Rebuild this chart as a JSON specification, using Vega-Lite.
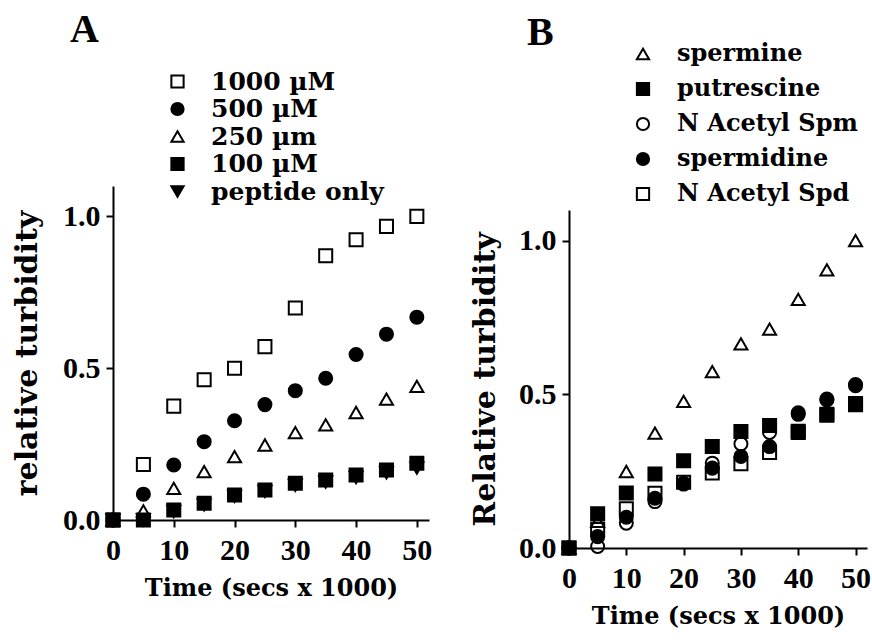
{
  "$schema": "https://vega.github.io/schema/vega-lite/v6.json",
  "background": "white",
  "padding": {"left": 12, "top": 10, "right": 0, "bottom": 0},
  "bounds": "flush",
  "spacing": 140,
  "resolve": {"scale": {"shape": "independent", "fill": "independent"}, "legend": {"shape": "independent", "fill": "independent"}},
  "config": {
    "view": {"stroke": null},
    "axis": {
      "grid": false, "domainColor": "black", "domainWidth": 2,
      "tickColor": "black", "tickWidth": 2, "tickSize": 7, "labelFlush": false,
      "labelFont": "Liberation Serif", "labelFontWeight": "bold", "labelFontSize": 30, "labelColor": "black",
      "titleFont": "DejaVu Serif", "titleFontWeight": "bold", "titleFontSize": 24, "titleColor": "black"
    },
    "legend": {
      "labelFont": "DejaVu Serif", "labelFontWeight": "bold", "labelColor": "black", "labelLimit": 0,
      "symbolStrokeColor": "black", "symbolStrokeWidth": 2, "symbolOpacity": 1, "symbolSize": 150
    },
    "title": {"font": "Liberation Serif", "fontWeight": "bold", "fontSize": 40, "color": "black", "anchor": "start", "frame": "group"}
  },
  "hconcat": [
    {
      "width": 316, "height": 334,
      "title": {"text": "A", "dx": -43, "offset": 19},
      "data": {"values": [
        {"s": "peptide only", "t": 0, "v": 0}, {"s": "peptide only", "t": 5, "v": 0}, {"s": "peptide only", "t": 10, "v": 0.028}, {"s": "peptide only", "t": 15, "v": 0.05}, {"s": "peptide only", "t": 20, "v": 0.078}, {"s": "peptide only", "t": 25, "v": 0.094}, {"s": "peptide only", "t": 30, "v": 0.114}, {"s": "peptide only", "t": 35, "v": 0.125}, {"s": "peptide only", "t": 40, "v": 0.14}, {"s": "peptide only", "t": 45, "v": 0.155}, {"s": "peptide only", "t": 50, "v": 0.171},
        {"s": "100 µM", "t": 0, "v": 0}, {"s": "100 µM", "t": 5, "v": 0}, {"s": "100 µM", "t": 10, "v": 0.033}, {"s": "100 µM", "t": 15, "v": 0.055}, {"s": "100 µM", "t": 20, "v": 0.082}, {"s": "100 µM", "t": 25, "v": 0.099}, {"s": "100 µM", "t": 30, "v": 0.121}, {"s": "100 µM", "t": 35, "v": 0.132}, {"s": "100 µM", "t": 40, "v": 0.148}, {"s": "100 µM", "t": 45, "v": 0.165}, {"s": "100 µM", "t": 50, "v": 0.187},
        {"s": "250 µm", "t": 0, "v": 0}, {"s": "250 µm", "t": 5, "v": 0.03}, {"s": "250 µm", "t": 10, "v": 0.104}, {"s": "250 µm", "t": 15, "v": 0.159}, {"s": "250 µm", "t": 20, "v": 0.209}, {"s": "250 µm", "t": 25, "v": 0.247}, {"s": "250 µm", "t": 30, "v": 0.288}, {"s": "250 µm", "t": 35, "v": 0.313}, {"s": "250 µm", "t": 40, "v": 0.354}, {"s": "250 µm", "t": 45, "v": 0.398}, {"s": "250 µm", "t": 50, "v": 0.44},
        {"s": "500 µM", "t": 0, "v": 0}, {"s": "500 µM", "t": 5, "v": 0.085}, {"s": "500 µM", "t": 10, "v": 0.181}, {"s": "500 µM", "t": 15, "v": 0.258}, {"s": "500 µM", "t": 20, "v": 0.327}, {"s": "500 µM", "t": 25, "v": 0.38}, {"s": "500 µM", "t": 30, "v": 0.426}, {"s": "500 µM", "t": 35, "v": 0.467}, {"s": "500 µM", "t": 40, "v": 0.545}, {"s": "500 µM", "t": 45, "v": 0.612}, {"s": "500 µM", "t": 50, "v": 0.668},
        {"s": "1000 µM", "t": 0, "v": 0}, {"s": "1000 µM", "t": 5, "v": 0.183}, {"s": "1000 µM", "t": 10, "v": 0.375}, {"s": "1000 µM", "t": 15, "v": 0.462}, {"s": "1000 µM", "t": 20, "v": 0.5}, {"s": "1000 µM", "t": 25, "v": 0.571}, {"s": "1000 µM", "t": 30, "v": 0.698}, {"s": "1000 µM", "t": 35, "v": 0.87}, {"s": "1000 µM", "t": 40, "v": 0.923}, {"s": "1000 µM", "t": 45, "v": 0.967}, {"s": "1000 µM", "t": 50, "v": 1.0}
      ]},
      "mark": {"type": "point", "filled": true, "stroke": "black", "strokeWidth": 2, "size": 170, "opacity": 1},
      "encoding": {
        "x": {"field": "t", "type": "quantitative", "scale": {"domain": [0, 52], "nice": false},
              "axis": {"values": [0, 10, 20, 30, 40, 50], "title": "Time (secs x 1000)", "labelPadding": 8, "titlePadding": 11}},
        "y": {"field": "v", "type": "quantitative", "scale": {"domain": [0, 1.1], "nice": false},
              "axis": {"values": [0, 0.5, 1], "format": ".1f", "title": "relative turbidity", "titleFontSize": 30, "labelPadding": 6, "titlePadding": 20}},
        "shape": {"field": "s", "type": "nominal",
                  "scale": {"domain": ["1000 µM", "500 µM", "250 µm", "100 µM", "peptide only"], "range": ["square", "circle", "triangle-up", "square", "triangle-down"]},
                  "legend": {"title": null, "orient": "none", "legendX": 52, "legendY": -117, "labelFontSize": 25, "rowPadding": 1.5, "labelOffset": 21,
                             "encode": {"symbols": {"update": {"stroke": {"value": "black"}, "strokeWidth": {"value": 2}}}}}},
        "fill": {"field": "s", "type": "nominal",
                 "scale": {"domain": ["1000 µM", "500 µM", "250 µm", "100 µM", "peptide only"], "range": ["transparent", "black", "transparent", "black", "black"]},
                 "legend": {"title": null, "orient": "none", "legendX": 52, "legendY": -117, "labelFontSize": 25, "rowPadding": 1.5, "labelOffset": 21,
                            "encode": {"symbols": {"update": {"stroke": {"value": "black"}, "strokeWidth": {"value": 2}}}}}}
      }
    },
    {
      "width": 298, "height": 362,
      "title": {"text": "B", "dx": -42, "offset": -11},
      "data": {"values": [
        {"s": "spermine", "t": 0, "v": 0}, {"s": "spermine", "t": 5, "v": 0.087}, {"s": "spermine", "t": 10, "v": 0.249}, {"s": "spermine", "t": 15, "v": 0.374}, {"s": "spermine", "t": 20, "v": 0.477}, {"s": "spermine", "t": 25, "v": 0.574}, {"s": "spermine", "t": 30, "v": 0.664}, {"s": "spermine", "t": 35, "v": 0.712}, {"s": "spermine", "t": 40, "v": 0.809}, {"s": "spermine", "t": 45, "v": 0.905}, {"s": "spermine", "t": 50, "v": 1.0},
        {"s": "putrescine", "t": 0, "v": 0}, {"s": "putrescine", "t": 5, "v": 0.111}, {"s": "putrescine", "t": 10, "v": 0.179}, {"s": "putrescine", "t": 15, "v": 0.241}, {"s": "putrescine", "t": 20, "v": 0.284}, {"s": "putrescine", "t": 25, "v": 0.33}, {"s": "putrescine", "t": 30, "v": 0.379}, {"s": "putrescine", "t": 35, "v": 0.399}, {"s": "putrescine", "t": 40, "v": 0.376}, {"s": "putrescine", "t": 45, "v": 0.432}, {"s": "putrescine", "t": 50, "v": 0.466},
        {"s": "N Acetyl Spm", "t": 0, "v": 0}, {"s": "N Acetyl Spm", "t": 5, "v": 0.005}, {"s": "N Acetyl Spm", "t": 10, "v": 0.081}, {"s": "N Acetyl Spm", "t": 15, "v": 0.151}, {"s": "N Acetyl Spm", "t": 20, "v": 0.208}, {"s": "N Acetyl Spm", "t": 25, "v": 0.276}, {"s": "N Acetyl Spm", "t": 30, "v": 0.339}, {"s": "N Acetyl Spm", "t": 35, "v": 0.376}, {"s": "N Acetyl Spm", "t": 40, "v": 0.44}, {"s": "N Acetyl Spm", "t": 45, "v": 0.485}, {"s": "N Acetyl Spm", "t": 50, "v": 0.532},
        {"s": "spermidine", "t": 0, "v": 0}, {"s": "spermidine", "t": 5, "v": 0.037}, {"s": "spermidine", "t": 10, "v": 0.1}, {"s": "spermidine", "t": 15, "v": 0.162}, {"s": "spermidine", "t": 20, "v": 0.211}, {"s": "spermidine", "t": 25, "v": 0.26}, {"s": "spermidine", "t": 30, "v": 0.298}, {"s": "spermidine", "t": 35, "v": 0.33}, {"s": "spermidine", "t": 40, "v": 0.435}, {"s": "spermidine", "t": 45, "v": 0.482}, {"s": "spermidine", "t": 50, "v": 0.528},
        {"s": "N Acetyl Spd", "t": 0, "v": 0}, {"s": "N Acetyl Spd", "t": 5, "v": 0.06}, {"s": "N Acetyl Spd", "t": 10, "v": 0.128}, {"s": "N Acetyl Spd", "t": 15, "v": 0.178}, {"s": "N Acetyl Spd", "t": 20, "v": 0.214}, {"s": "N Acetyl Spd", "t": 25, "v": 0.244}, {"s": "N Acetyl Spd", "t": 30, "v": 0.274}, {"s": "N Acetyl Spd", "t": 35, "v": 0.311}, {"s": "N Acetyl Spd", "t": 40, "v": 0.38}, {"s": "N Acetyl Spd", "t": 45, "v": 0.435}, {"s": "N Acetyl Spd", "t": 50, "v": 0.47}
      ]},
      "mark": {"type": "point", "filled": true, "stroke": "black", "strokeWidth": 2, "size": 170, "opacity": 1},
      "encoding": {
        "x": {"field": "t", "type": "quantitative", "scale": {"domain": [0, 52], "nice": false},
              "axis": {"values": [0, 10, 20, 30, 40, 50], "title": "Time (secs x 1000)", "labelPadding": 8, "titlePadding": 11}},
        "y": {"field": "v", "type": "quantitative", "scale": {"domain": [0, 1.1], "nice": false, "range": [362, 24]},
              "axis": {"values": [0, 0.5, 1], "format": ".1f", "title": "Relative turbidity", "titleFontSize": 30, "labelPadding": 6, "titlePadding": 18}},
        "shape": {"field": "s", "type": "nominal",
                  "scale": {"domain": ["spermine", "putrescine", "N Acetyl Spm", "spermidine", "N Acetyl Spd"], "range": ["triangle-up", "square", "circle", "circle", "square"]},
                  "legend": {"title": null, "orient": "none", "legendX": 62, "legendY": -144, "labelFontSize": 24, "rowPadding": 11, "labelOffset": 22,
                             "encode": {"symbols": {"update": {"stroke": {"value": "black"}, "strokeWidth": {"value": 2}}}}}},
        "fill": {"field": "s", "type": "nominal",
                 "scale": {"domain": ["spermine", "putrescine", "N Acetyl Spm", "spermidine", "N Acetyl Spd"], "range": ["transparent", "black", "transparent", "black", "transparent"]},
                 "legend": {"title": null, "orient": "none", "legendX": 62, "legendY": -144, "labelFontSize": 24, "rowPadding": 11, "labelOffset": 22,
                            "encode": {"symbols": {"update": {"stroke": {"value": "black"}, "strokeWidth": {"value": 2}}}}}}
      }
    }
  ]
}
